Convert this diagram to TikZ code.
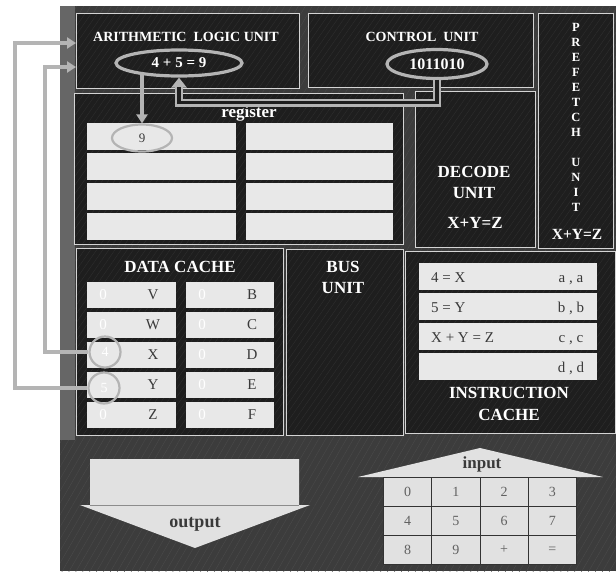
\documentclass[tikz,border=0pt]{standalone}
\usepackage{fontspec}
\setmainfont{Liberation Serif}
\usetikzlibrary{arrows.meta,shapes.geometric,calc,patterns.meta}
\definecolor{bgc}{HTML}{3C3C3C}
\definecolor{boxfill}{HTML}{1E1E1E}
\definecolor{cellc}{HTML}{E8E8E8}
\definecolor{connc}{HTML}{B4B4B4}
\definecolor{bordc}{HTML}{D4D4D4}
\definecolor{ctext}{HTML}{3A3A3A}
\definecolor{texbox}{HTML}{2E2E2E}
\definecolor{texbg}{HTML}{4A4A4A}
\begin{document}
\begin{tikzpicture}[x=1pt,y=-1pt,
  unitbox/.style={draw=none,fill=boxfill,inner sep=0pt,outer sep=0pt,anchor=north west,
    postaction={pattern={Lines[angle=55,distance=5pt,line width=0.4pt]},pattern color=texbox},
    postaction={draw=bordc,line width=1pt}},
  cellbox/.style={fill=cellc,draw=none,inner sep=0pt,outer sep=0pt,anchor=north west},
  ttl/.style={text=white,font=\bfseries\fontsize{17}{19}\selectfont,inner sep=0pt},
  smallttl/.style={text=white,font=\bfseries\fontsize{14}{16}\selectfont,inner sep=0pt},
  pfletter/.style={text=white,font=\bfseries\fontsize{12.5}{14}\selectfont,inner sep=0pt},
  ovalmark/.style={ellipse,draw=connc,line width=3.2pt,inner sep=0pt},
  ringmark/.style={circle,draw=connc,line width=2.2pt,inner sep=0pt,minimum size=31pt,text=white,font=\fontsize{14}{16}\selectfont},
  celltxt/.style={text=ctext,font=\fontsize{15}{17}\selectfont,inner sep=0pt},
  keytxt/.style={text=ctext!80,font=\fontsize{14}{16}\selectfont,inner sep=0pt},
  arr/.style={draw=connc,line width=3.5pt,-{Triangle[length=9pt,width=11pt]}},
]
\useasboundingbox (0,0) rectangle (616,571);
% background
\fill[bgc] (60,6) rectangle (616,571);
\fill[pattern={Lines[angle=60,distance=6pt,line width=0.4pt]},pattern color=texbg] (60,6) rectangle (616,571);
\fill[black!60] (60,6) rectangle (75,440);

% ---- units ----
\node[unitbox,minimum width=223pt,minimum height=75pt] (alu) at (76,13) {};
\node[unitbox,minimum width=225pt,minimum height=74pt] (cu) at (308,13) {};
\node[unitbox,minimum width=75pt,minimum height=235pt] (pf) at (538,13) {};
\node[unitbox,minimum width=329pt,minimum height=151pt] (reg) at (74,93) {};
\node[unitbox,minimum width=120pt,minimum height=156pt] (dec) at (415,91) {};
\node[unitbox,minimum width=207pt,minimum height=187pt] (dc) at (76,248) {};
\node[unitbox,minimum width=117pt,minimum height=186pt] (bus) at (286,249) {};
\node[unitbox,minimum width=210pt,minimum height=182pt] (ic) at (405,251) {};

% ---- titles ----
\node[smallttl] (alut) at (186,37) {ARITHMETIC\ \ LOGIC UNIT};
\node[smallttl] (cut) at (422,37) {CONTROL\ \ UNIT};
\node[ttl,anchor=base] (regt) at (249,117.5) {register};
\node[ttl] (dect1) at (474,172) {DECODE};
\node[ttl] (dect2) at (474,193) {UNIT};
\node[ttl] (dect3) at (475,223) {X+Y=Z};
\foreach \l [count=\i] in {P,R,E,F,E,T,C,H}
  \node[pfletter] (pf\i) at (576,{27+15*(\i-1)}) {\l};
\foreach \l [count=\i] in {U,N,I,T}
  \node[pfletter] (pu\i) at (576,{162+15*(\i-1)}) {\l};
\node[ttl,font=\bfseries\fontsize{15.5}{17}\selectfont] (pft) at (577,234) {X+Y=Z};
\node[ttl] (dct) at (180,267) {DATA CACHE};
\node[ttl] (bust1) at (343,267) {BUS};
\node[ttl] (bust2) at (343,288) {UNIT};
\node[ttl] (ict1) at (509,393) {INSTRUCTION};
\node[ttl] (ict2) at (509,415) {CACHE};

% ---- register cells ----
\foreach \i in {1,...,4}{
  \node[cellbox,minimum width=149pt,minimum height=27pt] (rl\i) at (87,{123+30*(\i-1)}) {};
  \node[cellbox,minimum width=147pt,minimum height=27pt] (rr\i) at (246,{123+30*(\i-1)}) {};
}

% ---- data cache cells ----
\foreach \a/\b [count=\i] in {V/B,W/C,X/D,Y/E,Z/F}{
  \node[cellbox,minimum width=89pt,minimum height=26pt] (dl\i) at (87,{282+30*(\i-1)}) {};
  \node[cellbox,minimum width=88pt,minimum height=26pt] (dr\i) at (186,{282+30*(\i-1)}) {};
  \node[celltxt] (dla\i) at (153,{295+30*(\i-1)}) {\a};
  \node[celltxt] (drb\i) at (252,{295+30*(\i-1)}) {\b};
  \node[celltxt,text=white] (drz\i) at (202,{295+30*(\i-1)}) {0};
}
\node[celltxt,text=white] (dlz1) at (103,295) {0};
\node[celltxt,text=white] (dlz2) at (103,325) {0};
\node[celltxt,text=white] (dlz5) at (103,415) {0};

% ---- instruction cache cells ----
\foreach \l/\r [count=\i] in {{4 = X}/{a , a},{5 = Y}/{b , b},{X + Y = Z}/{c , c},{}/{d , d}}{
  \node[cellbox,minimum width=178pt,minimum height=27pt] (ir\i) at (419,{263+30*(\i-1)}) {};
  \node[celltxt,anchor=base west] (irl\i) at (431,{282+30*(\i-1)}) {\l};
  \node[celltxt,anchor=base] (irr\i) at (571,{282+30*(\i-1)}) {\r};
}

% ---- ovals ----
\node[ovalmark,minimum width=126pt,minimum height=26pt,text=white,font=\bfseries\fontsize{15}{17}\selectfont] (alue) at (179,63) {4 + 5 = 9};
\node[ovalmark,minimum width=100pt,minimum height=29pt,text=white,font=\bfseries\fontsize{16}{18}\selectfont] (cue) at (437,64) {1011010};
\node[ovalmark,line width=2.2pt,minimum width=60pt,minimum height=27pt,text=ctext,font=\fontsize{13}{15}\selectfont] (nine) at (142,138) {9};
\node[ringmark] (c4) at (105,352) {4};
\node[ringmark] (c5) at (104,388) {5};

% ---- connectors ----
\coordinate (inA) at (alu.west |- 0,43);
\coordinate (inB) at (alu.west |- 0,67);
\draw[arr] (c5.west) -| (15,43) -- (inA);
\draw[arr] (c4.west) -| (45,67) -- (inB);
\draw[arr,shorten <=-3pt] (alue.south -| nine.north) -- (nine.north);
\draw[draw=connc,line width=8pt,-{Triangle[length=10pt,width=15pt]}] (cue.south) -- ++(0,22.5) -| (alue.south);
\draw[draw=boxfill,line width=3.5pt,shorten >=9pt,shorten <=-0.5pt] (cue.south) -- ++(0,22.5) -| (alue.south);

% ---- output arrow ----
\path[fill=cellc!97!black] (90,459) -- (299,459) -- (299,505) -- (310,505) -- (195,548) -- (80,505) -- (90,505) -- cycle;
\draw[black!45,line width=1pt] (90,505) -- (299,505);
\node[ttl,text=ctext,font=\bfseries\fontsize{18}{20}\selectfont] (outt) at (195,524) {output};

% ---- input arrow with keypad ----
\path[fill=cellc!97!black] (358,477) -- (480,448) -- (603,477) -- cycle;
\node[ttl,text=ctext,font=\bfseries\fontsize{17}{19}\selectfont] (int) at (482,464) {input};
\foreach \k [count=\n from 0] in {0,1,2,3,4,5,6,7,8,9,+,=}{
  \pgfmathtruncatemacro{\cx}{mod(\n,4)}
  \pgfmathtruncatemacro{\cy}{div(\n,4)}
  \node[draw=black!80,line width=0.8pt,fill=cellc!97!black,minimum width=48.25pt,minimum height=29pt,inner sep=0pt,anchor=north west] (key\n) at ({383+48.25*\cx},{477+29*\cy}) {};
  \node[keytxt] (keyt\n) at (key\n.center) {\k};
}
\end{tikzpicture}
\end{document}
